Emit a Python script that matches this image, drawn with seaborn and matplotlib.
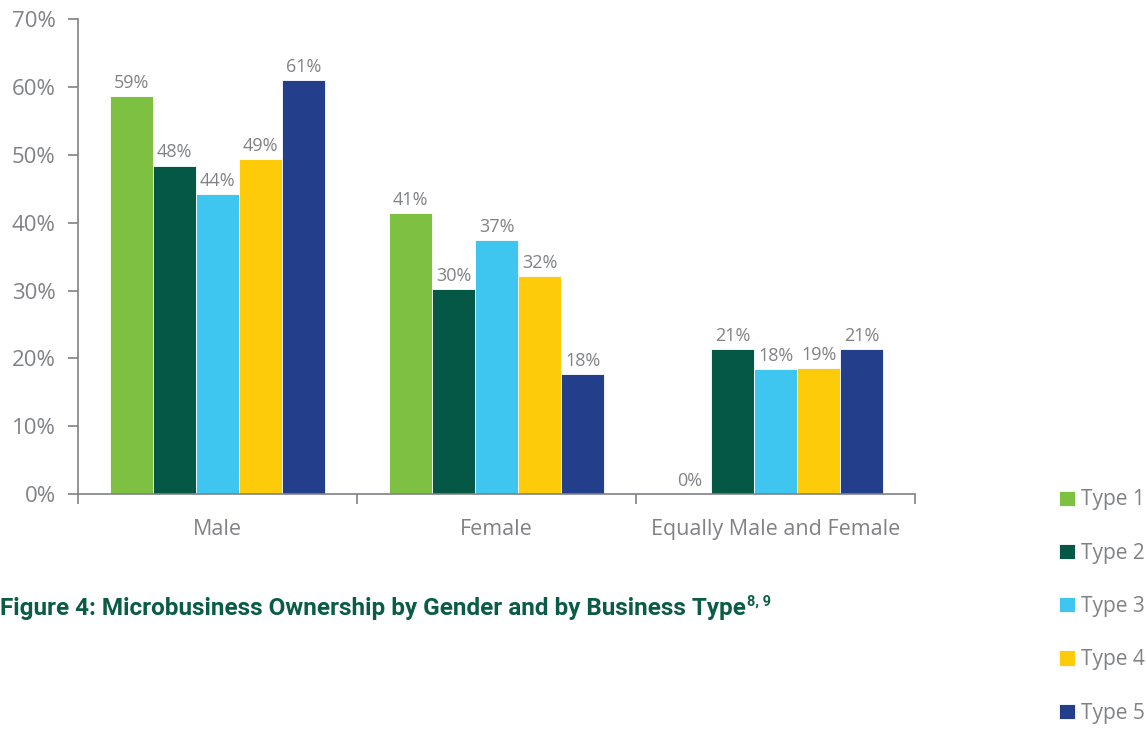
import pandas as pd
import seaborn as sns
import matplotlib.pyplot as plt
from matplotlib.ticker import FixedLocator, PercentFormatter

# Data
categories = ['Male', 'Female', 'Equally Male and Female']
types = ['Type 1', 'Type 2', 'Type 3', 'Type 4', 'Type 5']
type1 = [58.6, 41.4, 0.0]
type2 = [48.4, 30.2, 21.4]
type3 = [44.2, 37.4, 18.4]
type4 = [49.4, 32.1, 18.6]
type5 = [61.0, 17.7, 21.4]
colors = ['#7dc042', '#055846', '#3ec5f0', '#fecb0a', '#233e8b']

rows = []
for t, vals in zip(types, [type1, type2, type3, type4, type5]):
    for c, v in zip(categories, vals):
        rows.append({'Gender': c, 'Type': t, 'Share': v})
data = pd.DataFrame(rows)

sns.set_style('white')
plt.rcParams['font.family'] = ['Open Sans', 'DejaVu Sans']
gray = '#808285'

fig = plt.figure(figsize=(11.47, 7.29), dpi=100)
ax = fig.add_axes([0.068, 0.322, 0.73, 0.652])

sns.barplot(data=data, x='Gender', y='Share', hue='Type', order=categories,
            hue_order=types, palette=colors, width=0.77, saturation=1,
            edgecolor='white', linewidth=0.6, ax=ax, legend=True)

# value labels
for cont in ax.containers:
    ax.bar_label(cont, labels=[f'{b.get_height():.0f}%' for b in cont],
                 padding=3, fontsize=13, color=gray)

ax.set_ylim(0, 70)
ax.set_xlim(-0.5, 2.5)
ax.yaxis.set_major_locator(FixedLocator(range(0, 71, 10)))
ax.yaxis.set_major_formatter(PercentFormatter(decimals=0))
ax.tick_params(axis='y', labelsize=16, labelcolor=gray, color=gray,
               length=7, width=1.2, direction='out', left=True, pad=9)
ax.tick_params(axis='x', which='major', length=0, labelsize=15.5,
               labelcolor=gray, pad=18)
ax.xaxis.set_minor_locator(FixedLocator([-0.5, 0.5, 1.5, 2.5]))
ax.tick_params(axis='x', which='minor', length=7, width=1.2, color=gray,
               bottom=True)
ax.set_xlabel('')
ax.set_ylabel('')
for s in ['top', 'right']:
    ax.spines[s].set_visible(False)
for s in ['left', 'bottom']:
    ax.spines[s].set_color(gray)
    ax.spines[s].set_linewidth(1.2)

handles, labels = ax.get_legend_handles_labels()
ax.get_legend().remove()
fig.legend(handles, labels, loc='upper left', bbox_to_anchor=(0.916, 0.34),
           frameon=False, fontsize=15, labelcolor=gray, handlelength=0.75,
           handleheight=0.75, handletextpad=0.3, labelspacing=1.55,
           borderaxespad=0)

# caption
title_font = ['Roboto', 'DejaVu Sans']
title = fig.text(0.0, 0.156, 'Figure 4: Microbusiness Ownership by Gender and by Business Type',
                 fontsize=17.5, fontweight='bold', color='#0a5c45',
                 family=title_font, va='baseline')
fig.canvas.draw()
bb = title.get_window_extent()
fig.text(bb.x1 / fig.bbox.width + 0.001, 0.169, '8, 9', fontsize=10.5,
         fontweight='bold', color='#0a5c45', family=title_font, va='baseline')

plt.savefig('out.png', dpi=100)
